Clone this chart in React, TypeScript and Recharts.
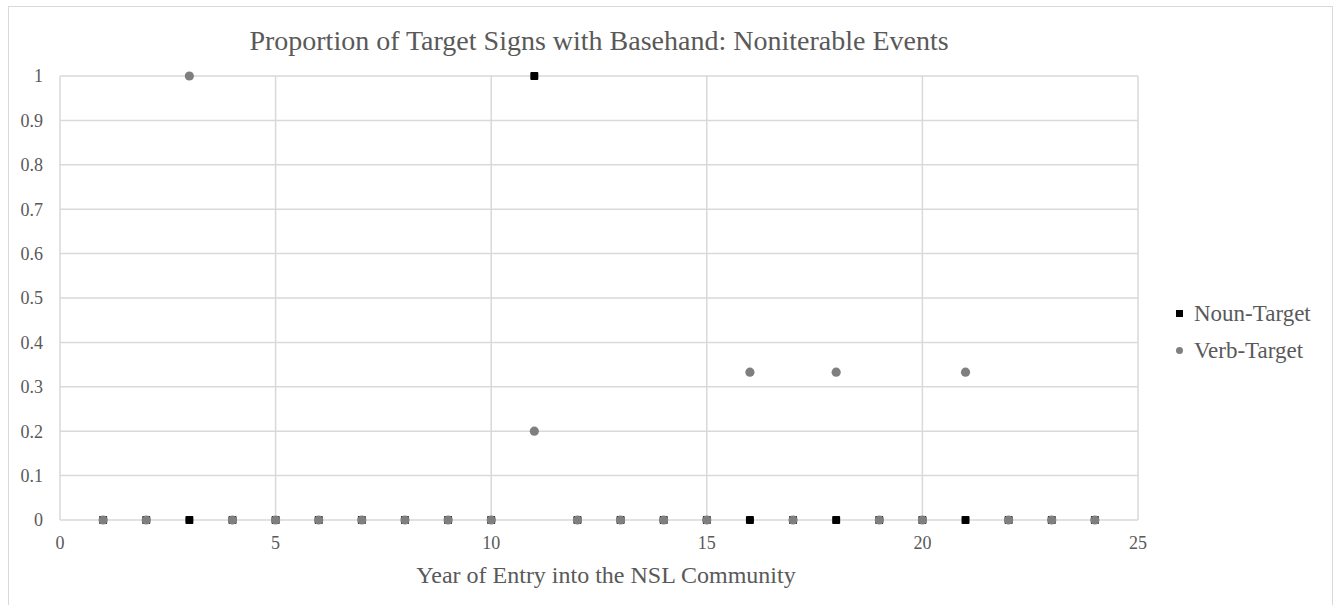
import React from 'react';
import { ScatterChart, Scatter, XAxis, YAxis, CartesianGrid } from 'recharts';

const years = [1, 2, 3, 4, 5, 6, 7, 8, 9, 10, 11, 12, 13, 14, 15, 16, 17, 18, 19, 20, 21, 22, 23, 24];
const nounValues = [0, 0, 0, 0, 0, 0, 0, 0, 0, 0, 1, 0, 0, 0, 0, 0, 0, 0, 0, 0, 0, 0, 0, 0];
const verbValues = [0, 0, 1, 0, 0, 0, 0, 0, 0, 0, 0.2, 0, 0, 0, 0, 0.333, 0, 0.333, 0, 0, 0.333, 0, 0, 0];
const xTicks = [0, 5, 10, 15, 20, 25];
const yTicks = [0, 0.1, 0.2, 0.3, 0.4, 0.5, 0.6, 0.7, 0.8, 0.9, 1];

const nounData = years.map((x, i) => ({ x, y: nounValues[i] }));
const verbData = years.map((x, i) => ({ x, y: verbValues[i] }));

const FONT = '"Liberation Serif", "Times New Roman", serif';
const TEXT = '#595959';
const GRID = '#d9d9d9';
const NOUN = '#000000';
const VERB = '#7f7f7f';

const SquareDot = (props: any) => {
  const { cx, cy } = props;
  return <rect x={cx - 4} y={cy - 4} width={8} height={8} rx={1} fill={NOUN} />;
};

const CircleDot = (props: any) => {
  const { cx, cy } = props;
  return <circle cx={cx} cy={cy} r={4.6} fill={VERB} />;
};

export default function App() {
  return (
    <div style={{ position: 'absolute', left: 0, top: 0, width: 1335, height: 605, background: '#fff', fontFamily: FONT }}>
      <div style={{ position: 'absolute', left: 8, top: 6, width: 1323, height: 600, border: `1px solid ${GRID}`, borderBottom: 'none' }} />
      <div style={{ position: 'absolute', left: 0, top: 25, width: 1198, textAlign: 'center', fontSize: 28, color: TEXT }}>
        Proportion of Target Signs with Basehand: Noniterable Events
      </div>
      <div style={{ position: 'absolute', left: 0, top: 562, width: 1212, textAlign: 'center', fontSize: 24, color: TEXT }}>
        Year of Entry into the NSL Community
      </div>
      <div style={{ position: 'absolute', left: 1176, top: 295, fontSize: 23, color: TEXT, lineHeight: '37px' }}>
        <div style={{ display: 'flex', alignItems: 'center' }}>
          <span style={{ display: 'inline-block', width: 7, height: 7, background: NOUN, marginRight: 11 }} />
          Noun-Target
        </div>
        <div style={{ display: 'flex', alignItems: 'center' }}>
          <span style={{ display: 'inline-block', width: 7, height: 7, borderRadius: '50%', background: VERB, marginRight: 11 }} />
          Verb-Target
        </div>
      </div>
      <div style={{ position: 'absolute', left: 0, top: 0 }}>
        <ScatterChart width={1335} height={605} margin={{ top: 76, right: 197, bottom: 55, left: 10 }}>
          <CartesianGrid stroke={GRID} strokeWidth={1.5} />
          <XAxis
            type="number"
            dataKey="x"
            domain={[0, 25]}
            ticks={xTicks}
            height={30}
            axisLine={false}
            tickLine={false}
            tickSize={0}
            tickMargin={16}
            tick={{ fill: TEXT, fontSize: 18, fontFamily: FONT }}
          />
          <YAxis
            type="number"
            dataKey="y"
            domain={[0, 1]}
            ticks={yTicks}
            width={50}
            axisLine={false}
            tickLine={false}
            tickSize={0}
            tickMargin={17}
            tick={{ fill: TEXT, fontSize: 18, fontFamily: FONT }}
          />
          <Scatter name="Noun-Target" data={nounData} shape={SquareDot} isAnimationActive={false} />
          <Scatter name="Verb-Target" data={verbData} shape={CircleDot} isAnimationActive={false} />
        </ScatterChart>
      </div>
    </div>
  );
}
